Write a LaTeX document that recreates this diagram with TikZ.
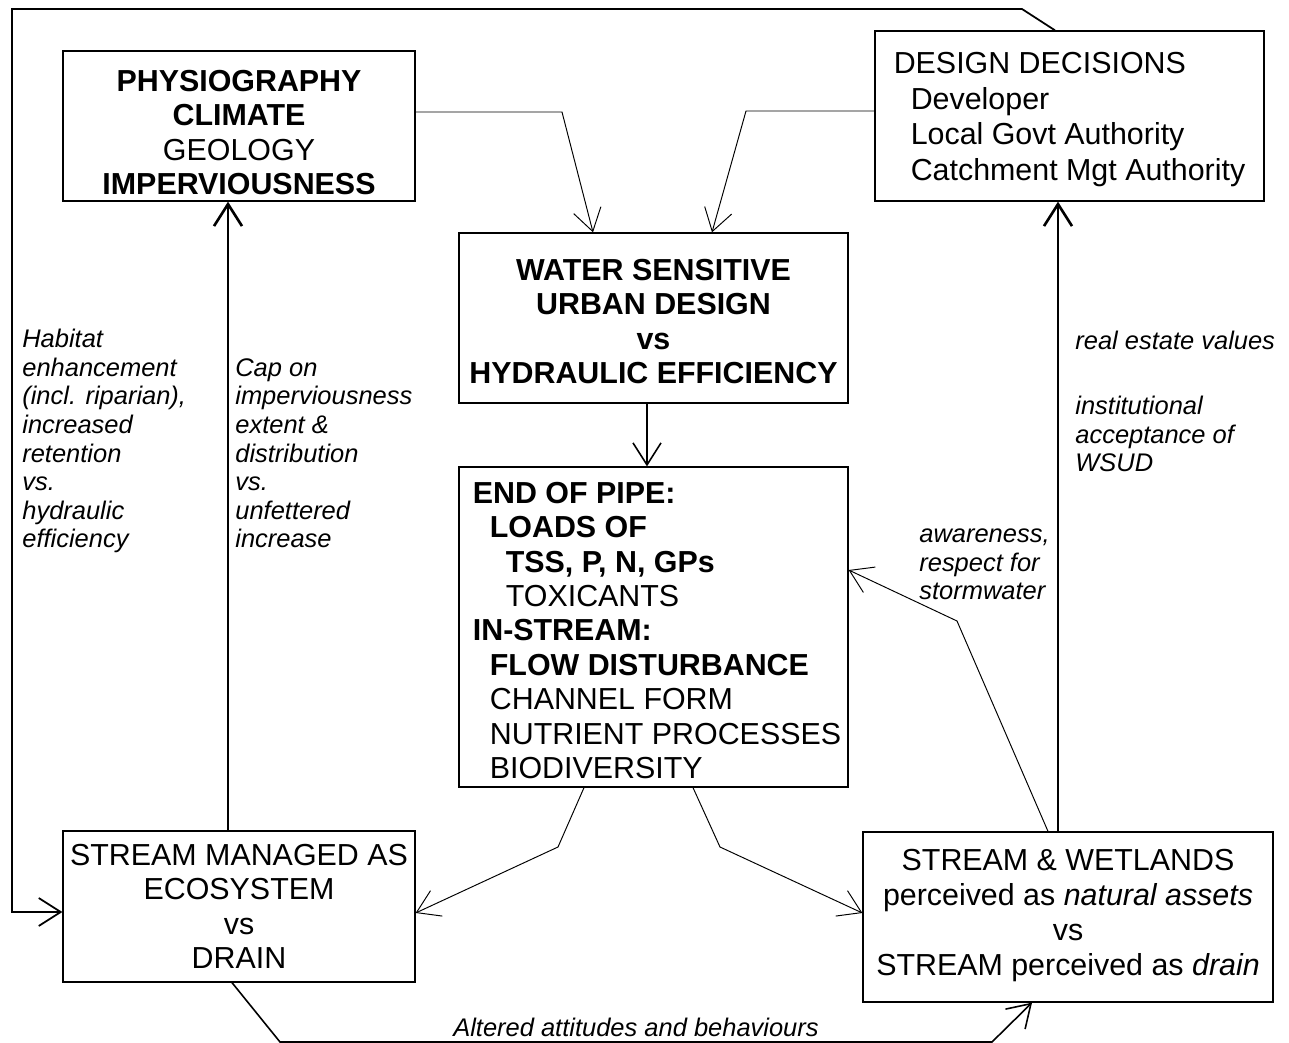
\documentclass[tikz,border=0pt]{standalone}
\usepackage{fontspec}
\setmainfont{Liberation Sans}
\usetikzlibrary{arrows.meta}
\newcommand{\toprule}[1]{\rule{0pt}{#1}}

\begin{document}
\begin{tikzpicture}[x=0.02cm,y=-0.02cm,
  >={Straight Barb[length=4.4mm,width=5.6mm]},
  box/.style={draw,line width=0.75pt,inner sep=0pt,align=center,font=\fontsize{17.3}{19.6}\selectfont},
  boldbox/.style={box,font=\fontsize{17.3}{19.6}\selectfont\bfseries},
  note/.style={anchor=base west,inner sep=0pt,align=left,font=\fontsize{14.5}{16.3}\selectfont\itshape},
  fineline/.style={line width=0.55pt},
  heavyline/.style={line width=1.5pt}]
  \useasboundingbox (0,0) rectangle (1289,1043);
  % boxes
  \node[box,minimum width=70.4mm,minimum height=30mm] (phys) at (239,126)
    {\toprule{19.4pt}\textbf{PHYSIOGRAPHY}\\\textbf{CLIMATE}\\GEOLOGY\\\textbf{IMPERVIOUSNESS}};
  \node[box,align=left,minimum width=77.8mm,minimum height=34mm,font=\fontsize{17.3}{20.2}\selectfont] (design) at (1069.5,116)
    {\toprule{16pt}DESIGN DECISIONS\\\hspace*{3.4mm}Developer\\\hspace*{3.4mm}Local Govt Authority\\\hspace*{3.4mm}Catchment Mgt Authority};
  \node[boldbox,minimum width=77.8mm,minimum height=34mm] (wsud) at (653.5,318)
    {\toprule{16pt}WATER SENSITIVE\\URBAN DESIGN\\vs\\HYDRAULIC EFFICIENCY};
  \node[box,align=left,minimum width=77.8mm,minimum height=64mm] (eop) at (653.5,627)
    {\toprule{16pt}\hspace*{1.4mm}\textbf{END OF PIPE:}\\
     \hspace*{4.8mm}\textbf{LOADS OF}\\
     \hspace*{8mm}\textbf{TSS, P, N, GPs}\\
     \hspace*{8mm}TOXICANTS\\
     \hspace*{1.4mm}\textbf{IN-STREAM:}\\
     \hspace*{4.8mm}\textbf{FLOW DISTURBANCE}\\
     \hspace*{4.8mm}CHANNEL FORM\\
     \hspace*{4.8mm}NUTRIENT PROCESSES\\
     \hspace*{4.8mm}BIODIVERSITY};
  \node[box,minimum width=70.4mm,minimum height=30.2mm] (managed) at (239,906.5)
    {STREAM MANAGED AS\\ECOSYSTEM\\vs\\DRAIN};
  \node[box,minimum width=82mm,minimum height=34mm,font=\fontsize{17.3}{20}\selectfont] (wetland) at (1068,917)
    {STREAM \& WETLANDS\\perceived as \textit{natural assets}\\vs\\STREAM perceived as \textit{drain}\rule[-5pt]{0pt}{0pt}};
  % side notes (placed by the baseline of their last line)
  \node[note] (habitat) at (22,548) {Habitat\\enhancement\\(incl. riparian),\\increased\\retention\\vs.\\hydraulic\\efficiency};
  \node[note] (capon) at (235,548) {Cap on\\imperviousness\\extent \&\\distribution\\vs.\\unfettered\\increase};
  \node[note] (estate) at (1075,350) {real estate values};
  \node[note] (accept) at (1075,472) {institutional\\acceptance of\\WSUD};
  \node[note] (aware) at (919,600) {awareness,\\respect for\\stormwater};
  % bends
  \coordinate (t1) at (1022,9);
  \coordinate (t2) at (12,9);
  \coordinate (t3) at (12,912);
  \coordinate (b1) at (562,112);
  \coordinate (c1) at (746,111);
  \coordinate (e1) at (558,847);
  \coordinate (f1) at (720,847);
  \coordinate (g1) at (280,1042);
  \coordinate (g2) at (992,1042);
  \coordinate (j1) at (957,621);
  % connectors
  \draw[->,line width=1pt] ([xshift=-2.9mm]design.north) -- (t1) -- (t2) -- (t3) -- (managed.west |- t3);
  \draw[->,fineline] (phys.east |- b1) -- (b1) -- ([xshift=-12.1mm]wsud.north);
  \draw[->,fineline] (design.west |- c1) -- (c1) -- ([xshift=11.7mm]wsud.north);
  \draw[->,line width=0.9pt] ([xshift=-1.3mm]wsud.south) -- ([xshift=-1.3mm]eop.north);
  \draw[->,fineline] ([xshift=-13.9mm]eop.south) -- (e1) -- ([yshift=-1.3mm]managed.east);
  \draw[->,fineline] ([xshift=7.9mm]eop.south) -- (f1) -- ([yshift=0.8mm]wetland.west);
  \draw[->,line width=0.9pt] ([xshift=-1.4mm]managed.south) -- (g1)
    -- node[above=2.8pt,inner sep=0pt,font=\fontsize{14.5}{16.3}\selectfont\itshape] (altered) {Altered attitudes and behaviours} (g2)
    -- ([xshift=-7.2mm]wetland.south);
  \draw[->,heavyline] ([xshift=-2.2mm]managed.north) -- ([xshift=-2.2mm]phys.south);
  \draw[->,heavyline] ([xshift=-2mm]wetland.north) -- ([xshift=-2mm]wetland.north |- design.south);
  \draw[->,fineline] ([xshift=-4mm]wetland.north) -- (j1) -- ([yshift=11.4mm]eop.east);
\end{tikzpicture}
\end{document}
